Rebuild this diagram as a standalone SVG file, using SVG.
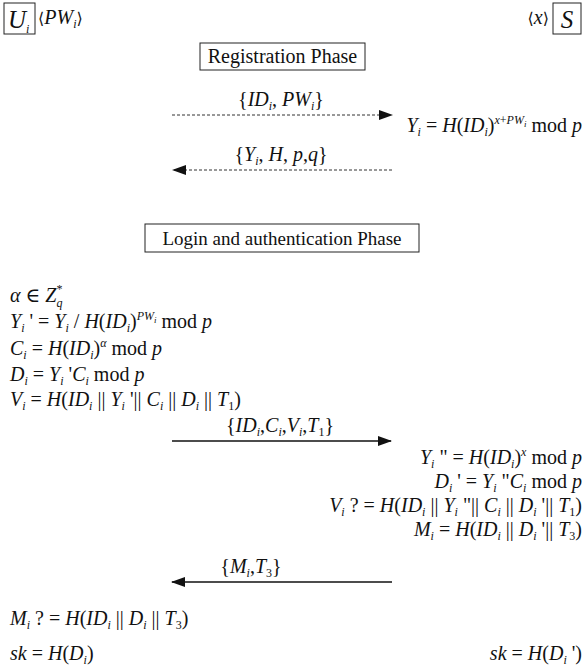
<svg xmlns="http://www.w3.org/2000/svg" width="584" height="668" viewBox="0 0 584 668" font-family="'Liberation Serif','Times New Roman',Times,'DejaVu Serif',serif">
<defs>
<marker id="ah" markerWidth="14" markerHeight="10" refX="13" refY="5" orient="auto" markerUnits="userSpaceOnUse">
<path d="M0,0 L14,5 L0,10 Z" fill="#111"/>
</marker>
<style>
text{font-family:'Liberation Serif','Times New Roman',Times,'DejaVu Serif',serif}
.m{font-size:20px;fill:#111}
.it{font-style:italic}
.s{font-size:12px}
.s2{font-size:9px}
.box{fill:none;stroke:#222;stroke-width:1}
.lbl{font-size:20px;fill:#111}
.dash{stroke:#333;stroke-width:1;stroke-dasharray:3,2;fill:none}
.solid{stroke:#111;stroke-width:1.3;fill:none}
.ang{font-family:'DejaVu Serif',serif;font-size:16px}
</style>
</defs>
<rect width="584" height="668" fill="#fff"/>

<g id="user">
<rect class="box" x="4" y="3" width="31" height="31"/>
<text class="m it" x="8" y="28" style="font-size:25px">U</text>
<text class="m it s" x="26" y="33">i</text>
<text class="m" x="38" y="24"><tspan class="ang">⟨</tspan><tspan class="it">PW</tspan><tspan class="s it" dy="4">i</tspan><tspan dy="-4" class="ang">⟩</tspan></text>
</g>

<g id="server">
<rect class="box" x="553" y="3" width="28" height="31"/>
<text class="m it" x="567" y="28" text-anchor="middle" style="font-size:25px">S</text>
<text class="m" x="549" y="24" text-anchor="end"><tspan class="ang">⟨</tspan><tspan class="it">x</tspan><tspan class="ang">⟩</tspan></text>
</g>

<g id="registration-phase">
<rect class="box" x="200" y="43" width="165" height="27"/>
<text class="lbl" x="282.500" y="63" text-anchor="middle">Registration Phase</text>
</g>

<g id="login-phase">
<rect class="box" x="145" y="224" width="274" height="28"/>
<text class="lbl" x="282" y="245" text-anchor="middle" style="font-size:19px">Login and authentication Phase</text>
</g>

<g id="connectors">
<line class="dash" x1="172" y1="115" x2="392" y2="115" marker-end="url(#ah)"/>
<line class="dash" x1="392" y1="170" x2="173" y2="170" marker-end="url(#ah)"/>
<line class="solid" x1="172" y1="441" x2="391" y2="441" marker-end="url(#ah)"/>
<line class="solid" x1="392" y1="582" x2="172" y2="582" marker-end="url(#ah)"/>
</g>

<g id="labels">
<text class="m" x="281" y="106" text-anchor="middle">{<tspan class="it">ID</tspan><tspan class="s it" dy="4">i</tspan><tspan dy="-4">, </tspan><tspan class="it">PW</tspan><tspan class="s it" dy="4">i</tspan><tspan dy="-4">}</tspan></text>
<text class="m" x="281" y="161" text-anchor="middle">{<tspan class="it">Y</tspan><tspan class="s it" dy="4">i</tspan><tspan dy="-4">, </tspan><tspan class="it">H</tspan>, <tspan class="it">p</tspan>,<tspan class="it">q</tspan>}</text>
<text class="m" x="280" y="432" text-anchor="middle">{<tspan class="it">ID</tspan><tspan class="s it" dy="4">i</tspan><tspan dy="-4">,</tspan><tspan class="it">C</tspan><tspan class="s it" dy="4">i</tspan><tspan dy="-4">,</tspan><tspan class="it">V</tspan><tspan class="s it" dy="4">i</tspan><tspan dy="-4">,</tspan><tspan class="it">T</tspan><tspan class="s" dy="4">1</tspan><tspan dy="-4">}</tspan></text>
<text class="m" x="251" y="573" text-anchor="middle">{<tspan class="it">M</tspan><tspan class="s it" dy="4">i</tspan><tspan dy="-4">,</tspan><tspan class="it">T</tspan><tspan class="s" dy="4">3</tspan><tspan dy="-4">}</tspan></text>
</g>

<g id="server-registration">
<text class="m" x="582" y="132" text-anchor="end"><tspan class="it">Y</tspan><tspan class="s it" dy="4">i</tspan><tspan dy="-4"> = </tspan><tspan class="it">H</tspan>(<tspan class="it">ID</tspan><tspan class="s it" dy="4">i</tspan><tspan dy="-4">)</tspan><tspan class="s it" dy="-8">x</tspan><tspan class="s">+</tspan><tspan class="s it">PW</tspan><tspan class="s2 it" dy="3">i</tspan><tspan dy="5"> mod </tspan><tspan class="it">p</tspan></text>
</g>

<g id="user-login">
<text class="m" x="10" y="302"><tspan class="it">α</tspan> ∈ <tspan class="it">Z</tspan><tspan class="s it" dy="5">q</tspan><tspan class="s" dx="-6" dy="-14">*</tspan></text>
<text class="m" x="10" y="328"><tspan class="it">Y</tspan><tspan class="s it" dy="4">i</tspan><tspan dy="-4"> ' = </tspan><tspan class="it">Y</tspan><tspan class="s it" dy="4">i</tspan><tspan dy="-4"> / </tspan><tspan class="it">H</tspan>(<tspan class="it">ID</tspan><tspan class="s it" dy="4">i</tspan><tspan dy="-4">)</tspan><tspan class="s it" dy="-8">PW</tspan><tspan class="s2 it" dy="3">i</tspan><tspan dy="5"> mod </tspan><tspan class="it">p</tspan></text>
<text class="m" x="10" y="355"><tspan class="it">C</tspan><tspan class="s it" dy="4">i</tspan><tspan dy="-4"> = </tspan><tspan class="it">H</tspan>(<tspan class="it">ID</tspan><tspan class="s it" dy="4">i</tspan><tspan dy="-4">)</tspan><tspan class="s it" dy="-8">α</tspan><tspan dy="8"> mod </tspan><tspan class="it">p</tspan></text>
<text class="m" x="10" y="381"><tspan class="it">D</tspan><tspan class="s it" dy="4">i</tspan><tspan dy="-4"> = </tspan><tspan class="it">Y</tspan><tspan class="s it" dy="4">i</tspan><tspan dy="-4"> '</tspan><tspan class="it">C</tspan><tspan class="s it" dy="4">i</tspan><tspan dy="-4"> mod </tspan><tspan class="it">p</tspan></text>
<text class="m" x="10" y="406"><tspan class="it">V</tspan><tspan class="s it" dy="4">i</tspan><tspan dy="-4"> = </tspan><tspan class="it">H</tspan>(<tspan class="it">ID</tspan><tspan class="s it" dy="4">i</tspan><tspan dy="-4"> || </tspan><tspan class="it">Y</tspan><tspan class="s it" dy="4">i</tspan><tspan dy="-4"> '|| </tspan><tspan class="it">C</tspan><tspan class="s it" dy="4">i</tspan><tspan dy="-4"> || </tspan><tspan class="it">D</tspan><tspan class="s it" dy="4">i</tspan><tspan dy="-4"> || </tspan><tspan class="it">T</tspan><tspan class="s" dy="4">1</tspan><tspan dy="-4">)</tspan></text>
</g>

<g id="server-login">
<text class="m" x="582" y="464" text-anchor="end"><tspan class="it">Y</tspan><tspan class="s it" dy="4">i</tspan><tspan dy="-4"> " = </tspan><tspan class="it">H</tspan>(<tspan class="it">ID</tspan><tspan class="s it" dy="4">i</tspan><tspan dy="-4">)</tspan><tspan class="s it" dy="-8">x</tspan><tspan dy="8">  mod </tspan><tspan class="it">p</tspan></text>
<text class="m" x="582" y="488" text-anchor="end"><tspan class="it">D</tspan><tspan class="s it" dy="4">i</tspan><tspan dy="-4"> ' = </tspan><tspan class="it">Y</tspan><tspan class="s it" dy="4">i</tspan><tspan dy="-4"> "</tspan><tspan class="it">C</tspan><tspan class="s it" dy="4">i</tspan><tspan dy="-4"> mod </tspan><tspan class="it">p</tspan></text>
<text class="m" x="582" y="512" text-anchor="end"><tspan class="it">V</tspan><tspan class="s it" dy="4">i</tspan><tspan dy="-4"> ? = </tspan><tspan class="it">H</tspan>(<tspan class="it">ID</tspan><tspan class="s it" dy="4">i</tspan><tspan dy="-4"> || </tspan><tspan class="it">Y</tspan><tspan class="s it" dy="4">i</tspan><tspan dy="-4"> "|| </tspan><tspan class="it">C</tspan><tspan class="s it" dy="4">i</tspan><tspan dy="-4"> || </tspan><tspan class="it">D</tspan><tspan class="s it" dy="4">i</tspan><tspan dy="-4"> '|| </tspan><tspan class="it">T</tspan><tspan class="s" dy="4">1</tspan><tspan dy="-4">)</tspan></text>
<text class="m" x="582" y="536" text-anchor="end"><tspan class="it">M</tspan><tspan class="s it" dy="4">i</tspan><tspan dy="-4"> = </tspan><tspan class="it">H</tspan>(<tspan class="it">ID</tspan><tspan class="s it" dy="4">i</tspan><tspan dy="-4"> || </tspan><tspan class="it">D</tspan><tspan class="s it" dy="4">i</tspan><tspan dy="-4"> '|| </tspan><tspan class="it">T</tspan><tspan class="s" dy="4">3</tspan><tspan dy="-4">)</tspan></text>
</g>

<g id="user-verify">
<text class="m" x="10" y="625"><tspan class="it">M</tspan><tspan class="s it" dy="4">i</tspan><tspan dy="-4"> ? = </tspan><tspan class="it">H</tspan>(<tspan class="it">ID</tspan><tspan class="s it" dy="4">i</tspan><tspan dy="-4"> || </tspan><tspan class="it">D</tspan><tspan class="s it" dy="4">i</tspan><tspan dy="-4"> || </tspan><tspan class="it">T</tspan><tspan class="s" dy="4">3</tspan><tspan dy="-4">)</tspan></text>
<text class="m" x="10" y="660"><tspan class="it">sk</tspan> = <tspan class="it">H</tspan>(<tspan class="it">D</tspan><tspan class="s it" dy="4">i</tspan><tspan dy="-4">)</tspan></text>
</g>

<g id="server-key">
<text class="m" x="582" y="660" text-anchor="end"><tspan class="it">sk</tspan> = <tspan class="it">H</tspan>(<tspan class="it">D</tspan><tspan class="s it" dy="4">i</tspan><tspan dy="-4"> ')</tspan></text>
</g>
</svg>
